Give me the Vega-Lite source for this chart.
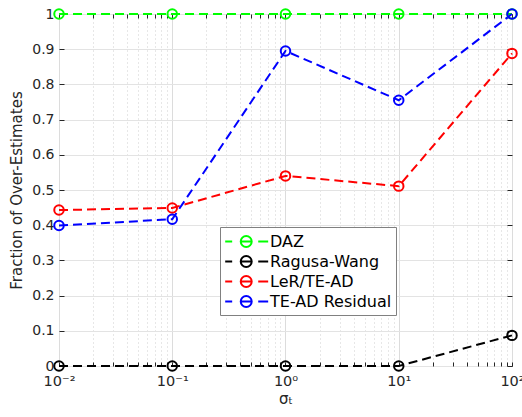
{
  "$schema": "https://vega.github.io/schema/vega-lite/v6.json",
  "width": 453,
  "height": 352,
  "autosize": {"type": "none"},
  "padding": {"left": 59, "top": 14, "right": 10, "bottom": 51},
  "background": "white",
  "config": {
    "view": {"stroke": "#262626", "strokeWidth": 1},
    "font": "DejaVu Sans",
    "axis": {"labelFont": "DejaVu Sans", "titleFont": "DejaVu Sans", "labelColor": "#262626", "titleColor": "#262626", "domain": false, "titleFontWeight": "normal"}
  },
  "data": {
    "values": [
      {"sigma": 0.01, "frac": 1, "method": "DAZ"},
      {"sigma": 0.1, "frac": 1, "method": "DAZ"},
      {"sigma": 1, "frac": 1, "method": "DAZ"},
      {"sigma": 10, "frac": 1, "method": "DAZ"},
      {"sigma": 100, "frac": 1, "method": "DAZ"},
      {"sigma": 0.01, "frac": 0, "method": "Ragusa-Wang"},
      {"sigma": 0.1, "frac": 0, "method": "Ragusa-Wang"},
      {"sigma": 1, "frac": 0, "method": "Ragusa-Wang"},
      {"sigma": 10, "frac": 0, "method": "Ragusa-Wang"},
      {"sigma": 100, "frac": 0.087, "method": "Ragusa-Wang"},
      {"sigma": 0.01, "frac": 0.443, "method": "LeR/TE-AD"},
      {"sigma": 0.1, "frac": 0.449, "method": "LeR/TE-AD"},
      {"sigma": 1, "frac": 0.54, "method": "LeR/TE-AD"},
      {"sigma": 10, "frac": 0.511, "method": "LeR/TE-AD"},
      {"sigma": 100, "frac": 0.888, "method": "LeR/TE-AD"},
      {"sigma": 0.01, "frac": 0.399, "method": "TE-AD Residual"},
      {"sigma": 0.1, "frac": 0.417, "method": "TE-AD Residual"},
      {"sigma": 1, "frac": 0.895, "method": "TE-AD Residual"},
      {"sigma": 10, "frac": 0.755, "method": "TE-AD Residual"},
      {"sigma": 100, "frac": 1, "method": "TE-AD Residual"}
    ]
  },
  "layer": [
    {
      "mark": {"type": "line", "strokeDash": [9, 5], "strokeWidth": 2},
      "encoding": {
        "x": {"field": "sigma", "type": "quantitative",
          "scale": {"type": "log", "domain": [0.01, 100], "nice": false},
          "axis": {"orient": "bottom", "values": [0.01, 0.02, 0.03, 0.04, 0.05, 0.06, 0.07, 0.08, 0.09, 0.1, 0.2, 0.3, 0.4, 0.5, 0.6, 0.7, 0.8, 0.9, 1, 2, 3, 4, 5, 6, 7, 8, 9, 10, 20, 30, 40, 50, 60, 70, 80, 90, 100],
            "title": "σₜ", "titleFontSize": 15, "titlePadding": 4,
            "labelExpr": "datum.value == 0.01 ? '10⁻²' : datum.value == 0.1 ? '10⁻¹' : datum.value == 1 ? '10⁰' : datum.value == 10 ? '10¹' : datum.value == 100 ? '10²' : ''",
            "labelFontSize": 14.5, "labelFlush": false, "labelPadding": 12, "labelOverlap": false,
            "tickSize": -4, "tickColor": "#262626", "grid": true,
            "gridColor": {"condition": {"test": "datum.value == 0.01 || datum.value == 0.1 || datum.value == 1 || datum.value == 10 || datum.value == 100", "value": "#dcdcdc"}, "value": "#cfcfcf"},
            "gridDash": {"condition": {"test": "datum.value == 0.01 || datum.value == 0.1 || datum.value == 1 || datum.value == 10 || datum.value == 100", "value": []}, "value": [1, 3]},
            "gridWidth": 1}},
        "y": {"field": "frac", "type": "quantitative",
          "scale": {"domain": [0, 1], "nice": false, "zero": false},
          "axis": {"orient": "left", "values": [0, 0.1, 0.2, 0.3, 0.4, 0.5, 0.6, 0.7, 0.8, 0.9, 1], "format": "~g", "title": "Fraction of Over-Estimates", "titleFontSize": 15, "titlePadding": 7,
            "labelFontSize": 14, "labelPadding": 10, "tickSize": -5, "tickColor": "#262626", "grid": true, "gridColor": "#e3e3e3", "gridWidth": 1}},
        "color": {"field": "method", "type": "nominal",
          "scale": {"domain": ["DAZ", "Ragusa-Wang", "LeR/TE-AD", "TE-AD Residual"], "range": ["#00ff00", "#000000", "#ff0000", "#0000ff"]},
          "legend": {"orient": "none", "legendX": 161, "legendY": 213, "title": null,
            "symbolType": "M-1,0H-0.25M2.55,0H3.62M0.67,0H1.85M0.67,0A0.59,0.59,0,1,1,1.85,0A0.59,0.59,0,1,1,0.67,0",
            "symbolSize": 346, "symbolStrokeWidth": 2, "symbolFillColor": "transparent",
            "labelFontSize": 16, "labelFont": "DejaVu Sans", "labelColor": "#000000", "labelOffset": 25,
            "fillColor": "white", "strokeColor": "#808080", "padding": 4, "rowPadding": 0,
            "encode": {"symbols": {"update": {"fill": {"value": "transparent"}}}}}}
      }
    },
    {
      "mark": {"type": "point", "shape": "circle", "filled": false, "size": 90, "strokeWidth": 2, "opacity": 1},
      "encoding": {
        "x": {"field": "sigma", "type": "quantitative",
          "scale": {"type": "log", "domain": [0.01, 100], "nice": false},
          "axis": {"orient": "top", "labels": false, "title": null, "tickSize": -4, "tickColor": "#262626", "grid": false,
            "values": [0.01, 0.02, 0.03, 0.04, 0.05, 0.06, 0.07, 0.08, 0.09, 0.1, 0.2, 0.3, 0.4, 0.5, 0.6, 0.7, 0.8, 0.9, 1, 2, 3, 4, 5, 6, 7, 8, 9, 10, 20, 30, 40, 50, 60, 70, 80, 90, 100]}},
        "y": {"field": "frac", "type": "quantitative",
          "scale": {"domain": [0, 1], "nice": false, "zero": false},
          "axis": {"orient": "right", "labels": false, "title": null, "tickSize": -5, "tickColor": "#262626", "grid": false,
            "values": [0, 0.1, 0.2, 0.3, 0.4, 0.5, 0.6, 0.7, 0.8, 0.9, 1]}},
        "color": {"field": "method", "type": "nominal",
          "scale": {"domain": ["DAZ", "Ragusa-Wang", "LeR/TE-AD", "TE-AD Residual"], "range": ["#00ff00", "#000000", "#ff0000", "#0000ff"]},
          "legend": null}
      }
    }
  ],
  "resolve": {"axis": {"x": "independent", "y": "independent"}}
}
